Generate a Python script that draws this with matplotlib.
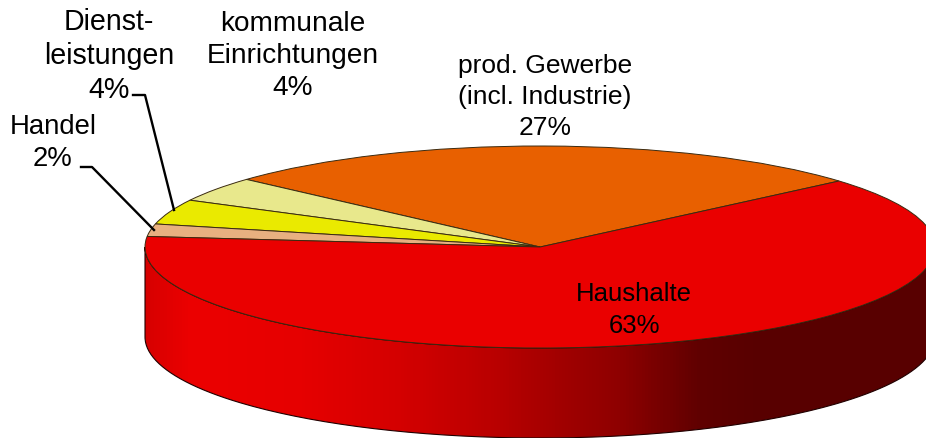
#!/usr/bin/env python3
"""Flat 3D style pie of consumption shares, drawn as a squashed pie with a shaded rim."""

import numpy as np
import matplotlib
matplotlib.use('Agg')
import matplotlib.pyplot as plt
from matplotlib.colors import LinearSegmentedColormap
from matplotlib.patches import PathPatch
from matplotlib.path import Path

labels = ['prod. Gewerbe\n(incl. Industrie)', 'kommunale\nEinrichtungen', 'Dienst-\nleistungen', 'Handel', 'Haushalte']
values = [27, 4, 4, 2, 63]
colors = ['#E86000', '#E8E88C', '#EAEA00', '#E8B080', '#EA0000']

W, H = 926, 439
CX, CY, RX, RY = 540, 248, 395, 101
DEPTH = 90

plt.rcParams['font.family'] = ['Liberation Sans', 'DejaVu Sans']

fig = plt.figure(figsize=(W / 100, H / 100), dpi=100, facecolor='white')

# pixel axes behind the pie, for the rim
back = fig.add_axes([0, 0, 1, 1], zorder=0)
back.set_xlim(0, W)
back.set_ylim(H, 0)
back.axis('off')

t = np.radians(np.linspace(180, 360, 200))
ex, ey = CX + RX * np.cos(t), CY - RY * np.sin(t)
rim = np.vstack([np.column_stack([ex, ey]), np.column_stack([ex[::-1], ey[::-1] + DEPTH]), [[ex[0], ey[0]]]])
rim_patch = PathPatch(Path(rim), facecolor='none', edgecolor='#200000', linewidth=0.8)
back.add_patch(rim_patch)

# rim shading left to right
stops = [(145, '#D70000'), (190, '#EC0000'), (300, '#E60000'), (400, '#D40000'), (500, '#B80000'),
         (530, '#AC0000'), (620, '#8E0000'), (700, '#600000'), (760, '#580000'), (935, '#580000')]
cmap = LinearSegmentedColormap.from_list('rim', [((x - 145) / 790, c) for x, c in stops])
grad = back.imshow(np.linspace(0, 1, 256).reshape(1, -1), cmap=cmap, aspect='auto',
                   extent=(145, 935, CY + RY + DEPTH, CY))
grad.set_clip_path(rim_patch)
back.set_xlim(0, W)
back.set_ylim(H, 0)

# the pie itself, squashed by giving the axes the ellipse's box
ax = fig.add_axes([(CX - RX) / W, 1 - (CY + RY) / H, 2 * RX / W, 2 * RY / H], zorder=1)
ax.pie(values, colors=colors, startangle=40.8, counterclock=True, radius=1,
       wedgeprops=dict(edgecolor='#3A2A10', linewidth=0.7))
ax.set_aspect('auto')
ax.set_xlim(-1, 1)
ax.set_ylim(-1, 1)
ax.patch.set_alpha(0)
for w in ax.patches:
    w.set_clip_on(False)

# pixel axes in front, for labels and leader lines
front = fig.add_axes([0, 0, 1, 1], zorder=2)
front.set_xlim(0, W)
front.set_ylim(H, 0)
front.axis('off')
front.patch.set_alpha(0)

# the source text runs wider on some labels, so sizes differ a bit
label_pos = [(545, 97), (293, 56), (109, 56), (53, 143), (634, 310)]
label_size = [19.0, 20.2, 20.6, 19.8, 18.5]
for lab, val, (x, y), size in zip(labels, values, label_pos, label_size):
    front.text(x, y, f'{lab}\n{val}%', ha='center', va='center', fontsize=size,
               linespacing=1.4 * 18.4 / size, color='black')

front.plot([133, 145, 174], [96, 96, 211], color='black', lw=1.7)
front.plot([81, 92, 154], [168, 168, 231], color='black', lw=1.7)

plt.savefig('out.png', dpi=100)
